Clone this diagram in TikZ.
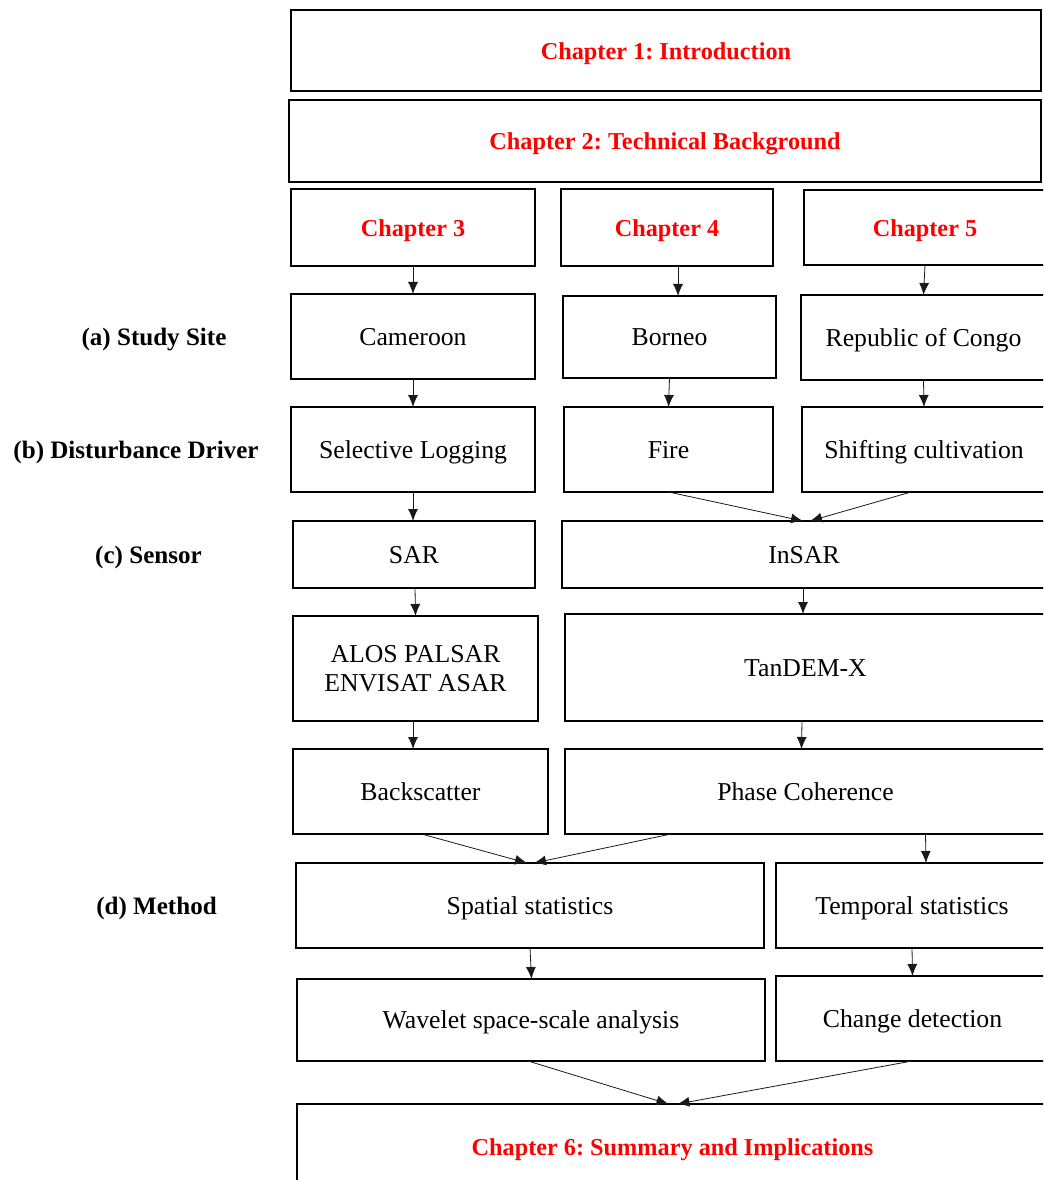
\documentclass[tikz,border=0pt]{standalone}
\usepackage{fontspec}
\setmainfont{Liberation Serif}
\usetikzlibrary{arrows.meta,calc}
\frenchspacing
\tikzset{
  box/.style={draw=black, line width=1.1pt, inner sep=0pt, outer sep=0pt, align=center, text height=14pt, text depth=1.2pt, font=\fontsize{19.3}{21.75}\selectfont},
  chap/.style={box, text=red, font=\fontsize{18.2}{21.75}\selectfont\bfseries},
  lab/.style={inner sep=0pt, text height=14pt, text depth=1.2pt, font=\fontsize{18.8}{21.75}\selectfont\bfseries},
  arr/.style={draw=black!90, line width=0.6pt, -{Latex[length=9pt,width=7.5pt]}}
}
\newcommand{\bx}[7][box]{%
  \node[#1, minimum width={(#5-#3)*0.75pt}, minimum height={(#6-#4)*0.75pt}] (#2) at ({(#3+#5)/2},{(#4+#6)/2}) {#7};}
\begin{document}
\begin{tikzpicture}[x=0.75pt,y=-0.75pt]
\useasboundingbox (0,0) rectangle (1043,1180);
\clip (0,0) rectangle (1043,1180);
% top chapters
\bx[chap]{ch1}{291}{10}{1041}{91}{Chapter 1: Introduction}
\bx[chap]{ch2}{289}{100}{1041}{182}{Chapter 2: Technical Background}
\bx[chap]{ch3}{291}{189}{535}{266}{Chapter 3}
\bx[chap]{ch4}{561}{189}{773}{266}{Chapter 4}
\bx[chap]{ch5}{804}{190}{1046}{265}{Chapter 5}
% study sites
\bx{cam}{291}{294}{535}{379}{Cameroon}
\bx{bor}{563}{296}{776}{378}{Borneo}
\bx{con}{801}{295}{1046}{380}{Republic of Congo}
% drivers
\bx{sel}{291}{407}{535}{492}{Selective Logging}
\bx{fire}{564}{407}{773}{492}{Fire}
\bx{shift}{802}{407}{1046}{492}{Shifting cultivation}
% sensors
\bx{sar}{293}{521}{535}{588}{SAR}
\bx{insar}{562}{521}{1046}{588}{InSAR}
\bx[box,text height=,text depth=]{alos}{293}{616}{538}{721}{ALOS PALSAR\\ENVISAT ASAR}
\bx{tdx}{565}{614}{1046}{721}{TanDEM-X}
\bx{bsc}{293}{749}{548}{834}{Backscatter}
\bx{phc}{565}{749}{1046}{834}{Phase Coherence}
% methods
\bx{spat}{296}{863}{764}{948}{Spatial statistics}
\bx{temp}{776}{863}{1048}{948}{Temporal statistics}
\bx{wav}{297}{979}{765}{1061}{Wavelet space-scale analysis}
\bx{chg}{776}{976}{1049}{1061}{Change detection}
\bx[chap]{ch6}{297}{1104}{1048}{1190}{Chapter 6: Summary and Implications}
% left labels
\node[lab] (la) at (154,337) {(a) Study Site};
\node[lab] (lb) at (136,449.5) {(b) Disturbance Driver};
\node[lab] (lc) at (148.5,554.5) {(c) Sensor};
\node[lab] (ld) at (156.5,905.5) {(d) Method};
% arrows
\draw[arr] (ch3.south) -- (cam.north);
\draw[arr] ($(ch4.south)+(11,0)$) -- ($(bor.north)+(8.5,0)$);
\draw[arr] (ch5.south) -- (con.north);
\draw[arr] (cam.south) -- (sel.north);
\draw[arr] (bor.south) -- (fire.north);
\draw[arr] (con.south) -- (shift.north);
\draw[arr] (sel.south) -- ($(sar.north)+(-1,0)$);
\draw[arr] (fire.south) -- ($(insar.north)+(-1,0)$);
\draw[arr] ($(shift.south)+(-13,0)$) -- ($(insar.north)+(6,0)$);
\draw[arr] ($(sar.south)+(1,0)$) -- (alos.north);
\draw[arr] ($(insar.south)+(-1,0)$) -- ($(tdx.north)+(-2.5,0)$);
\draw[arr] ($(alos.south)+(-2.5,0)$) -- ($(bsc.north)+(-7.5,0)$);
\draw[arr] ($(tdx.south)+(-3.5,0)$) -- ($(phc.north)+(-4,0)$);
\draw[arr] ($(bsc.south)+(1,0)$) -- ($(spat.north)+(-3,0)$);
\draw[arr] ($(phc.south)+(-134.5,0)$) -- ($(spat.north)+(4,0)$);
\draw[arr] ($(phc.south)+(120,0)$) -- ($(temp.north)+(14,0)$);
\draw[arr] (spat.south) -- ($(wav.north)+(0.5,0)$);
\draw[arr] (temp.south) -- (chg.north);
\draw[arr] ($(wav.south)+(-3,0)$) -- ($(ch6.north)+(-4,0)$);
\draw[arr] ($(chg.south)+(-0.5,0)$) -- ($(ch6.north)+(5,0)$);
\end{tikzpicture}
\end{document}
